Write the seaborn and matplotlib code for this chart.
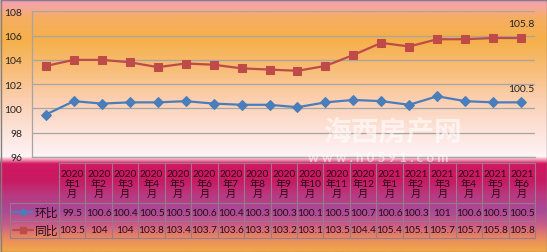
import numpy as np
import matplotlib
matplotlib.use("Agg")
import matplotlib.pyplot as plt
from matplotlib.colors import LinearSegmentedColormap
import seaborn as sns

# ---------------- data ----------------
years = ["2020"] * 12 + ["2021"] * 6
months = [1, 2, 3, 4, 5, 6, 7, 8, 9, 10, 11, 12, 1, 2, 3, 4, 5, 6]
categories = [f"{y}年{m}月" for y, m in zip(years, months)]
huanbi = [99.5, 100.6, 100.4, 100.5, 100.5, 100.6, 100.4, 100.3, 100.3, 100.1,
          100.5, 100.7, 100.6, 100.3, 101, 100.6, 100.5, 100.5]
tongbi = [103.5, 104, 104, 103.8, 103.4, 103.7, 103.6, 103.3, 103.2, 103.1,
          103.5, 104.4, 105.4, 105.1, 105.7, 105.7, 105.8, 105.8]
huanbi_labels = ["99.5", "100.6", "100.4", "100.5", "100.5", "100.6", "100.4", "100.3", "100.3",
                 "100.1", "100.5", "100.7", "100.6", "100.3", "101", "100.6", "100.5", "100.5"]
tongbi_labels = ["103.5", "104", "104", "103.8", "103.4", "103.7", "103.6", "103.3", "103.2",
                 "103.1", "103.5", "104.4", "105.4", "105.1", "105.7", "105.7", "105.8", "105.8"]
series_names = ["环比", "同比"]
yticks = [96, 98, 100, 102, 104, 106, 108]

# ---------------- style ----------------
sns.set_style("white")
plt.rcParams["font.family"] = ["Lato", "Noto Sans CJK SC", "DejaVu Sans"]

W, H = 547, 253
DPI = 100
fig = plt.figure(figsize=(W / DPI, H / DPI), dpi=DPI)

# background gradient
stops = [(0, "#f29ab8"), (6, "#f5a6a2"), (18, "#f5ae62"), (40, "#f6b04a"),
         (70, "#f8bd78"), (100, "#fbcfb0"), (130, "#fde2d8"), (150, "#feeeee"),
         (158, "#fff4f4"), (161, "#f090b0"), (165, "#d01860"), (182, "#c81a64"),
         (197, "#b83a80"), (212, "#a84a98"), (226, "#c85a88"), (240, "#e88a60"),
         (253, "#f2a848")]
cmap = LinearSegmentedColormap.from_list("bg", [(p / H, c) for p, c in stops])
bg = fig.add_axes([0, 0, 1, 1], zorder=0)
bg.imshow(np.linspace(0, 1, 400).reshape(-1, 1), cmap=cmap, aspect="auto",
          extent=[0, W, H, 0])
bg.set_xlim(0, W)
bg.set_ylim(H, 0)
bg.axis("off")

# plot area (pixels): x 32..535, y 12..158
L, R, T, B = 32, 535, 12.3, 158
ax = fig.add_axes([L / W, 1 - B / H, (R - L) / W, (B - T) / H], zorder=2)
ax.patch.set_alpha(0)

x = np.arange(len(categories))
c_hb = "#4a7ebb"
c_tb = "#be4b48"
sns.lineplot(x=x, y=huanbi, ax=ax, color=c_hb, linewidth=1.6, marker="D",
             markersize=5, markeredgecolor=c_hb, zorder=4)
sns.lineplot(x=x, y=tongbi, ax=ax, color=c_tb, linewidth=1.6, marker="s",
             markersize=6, markeredgecolor=c_tb, zorder=4)
ax.set_xlim(-0.5, len(categories) - 0.5)
ax.set_ylim(96, 108)
ax.set_yticks(yticks)
ax.set_yticklabels([str(t) for t in yticks], fontsize=7.5, color="#222222")
ax.tick_params(axis="y", length=0, pad=7)
ax.set_xticks([])
ax.set_xlabel("")
ax.set_ylabel("")
for t in yticks:
    ax.axhline(t, color="#a5a5a5", linewidth=0.9, zorder=1)
for s in ["top", "right"]:
    ax.spines[s].set_visible(False)
ax.spines["left"].set_color("#a5a5a5")
ax.spines["left"].set_linewidth(0.9)
ax.spines["bottom"].set_color("#a5a5a5")
ax.spines["bottom"].set_linewidth(0.9)

# end labels
ax.annotate(huanbi_labels[-1], (x[-1], huanbi[-1]), xytext=(0, 7), textcoords="offset points",
            ha="center", va="bottom", fontsize=7.5, color="#222222")
ax.annotate(tongbi_labels[-1], (x[-1], tongbi[-1]), xytext=(0, 7), textcoords="offset points",
            ha="center", va="bottom", fontsize=7.5, color="#222222")

# watermark
ov = fig.add_axes([0, 0, 1, 1], zorder=3)
ov.set_xlim(0, W)
ov.set_ylim(H, 0)
ov.axis("off")
ov.text(392, 132, "海西房产网", fontsize=20, fontweight="bold", color="white", alpha=0.6,
        ha="center", va="center", family=["Noto Sans CJK SC"])
ov.text(378, 158, "w w w . h 0 5 9 1 . c o m", fontsize=9.5, fontweight="bold", color="white",
        alpha=0.55, ha="center", va="center")

# data table
tab = fig.add_axes([0, 0, 1, 1], zorder=4)
tab.set_xlim(0, W)
tab.set_ylim(H, 0)
tab.axis("off")
gc = "#9a7a8a"
tx0, cx0, tx1 = 10, 59, 535
ty0, ty1, ty2, ty3 = 164, 204, 222, 239
n = len(categories)
cw = (tx1 - cx0) / n
tab.plot([cx0, tx1], [ty0, ty0], color=gc, lw=0.8)
for yy in [ty1, ty2, ty3]:
    tab.plot([tx0, tx1], [yy, yy], color=gc, lw=0.8)
tab.plot([tx0, tx0], [ty1, ty3], color=gc, lw=0.8)
for i in range(n + 1):
    xx = cx0 + i * cw
    tab.plot([xx, xx], [ty0, ty3], color=gc, lw=0.8)
tc = "#2a0a14"
for i in range(n):
    xc = cx0 + (i + 0.5) * cw
    tab.text(xc, (ty0 + ty1) / 2 + 0.5, f"{years[i]}\n年{months[i]}\n月", ha="center",
             va="center", fontsize=7.3, color=tc, linespacing=1.05)
    tab.text(xc, (ty1 + ty2) / 2 + 0.5, huanbi_labels[i], ha="center", va="center",
             fontsize=7.3, color=tc)
    tab.text(xc, (ty2 + ty3) / 2 + 0.5, tongbi_labels[i], ha="center", va="center",
             fontsize=7.3, color=tc)
# legend keys
for (yy0, yy1), name, col, mk, ms in [((ty1, ty2), series_names[0], c_hb, "D", 3.5),
                                       ((ty2, ty3), series_names[1], c_tb, "s", 5)]:
    ym = (yy0 + yy1) / 2
    tab.plot([13, 33], [ym, ym], color=col, lw=1.6)
    tab.plot([23], [ym], marker=mk, color=col, markersize=ms)
    tab.text(35, ym + 0.5, name, ha="left", va="center", fontsize=8.5, color=tc)

# frame
bg.plot([0.5, W - 0.5, W - 0.5, 0.5, 0.5], [0.5, 0.5, H - 0.5, H - 0.5, 0.5],
        color="#808080", lw=1)

fig.savefig("out.png", dpi=DPI)
